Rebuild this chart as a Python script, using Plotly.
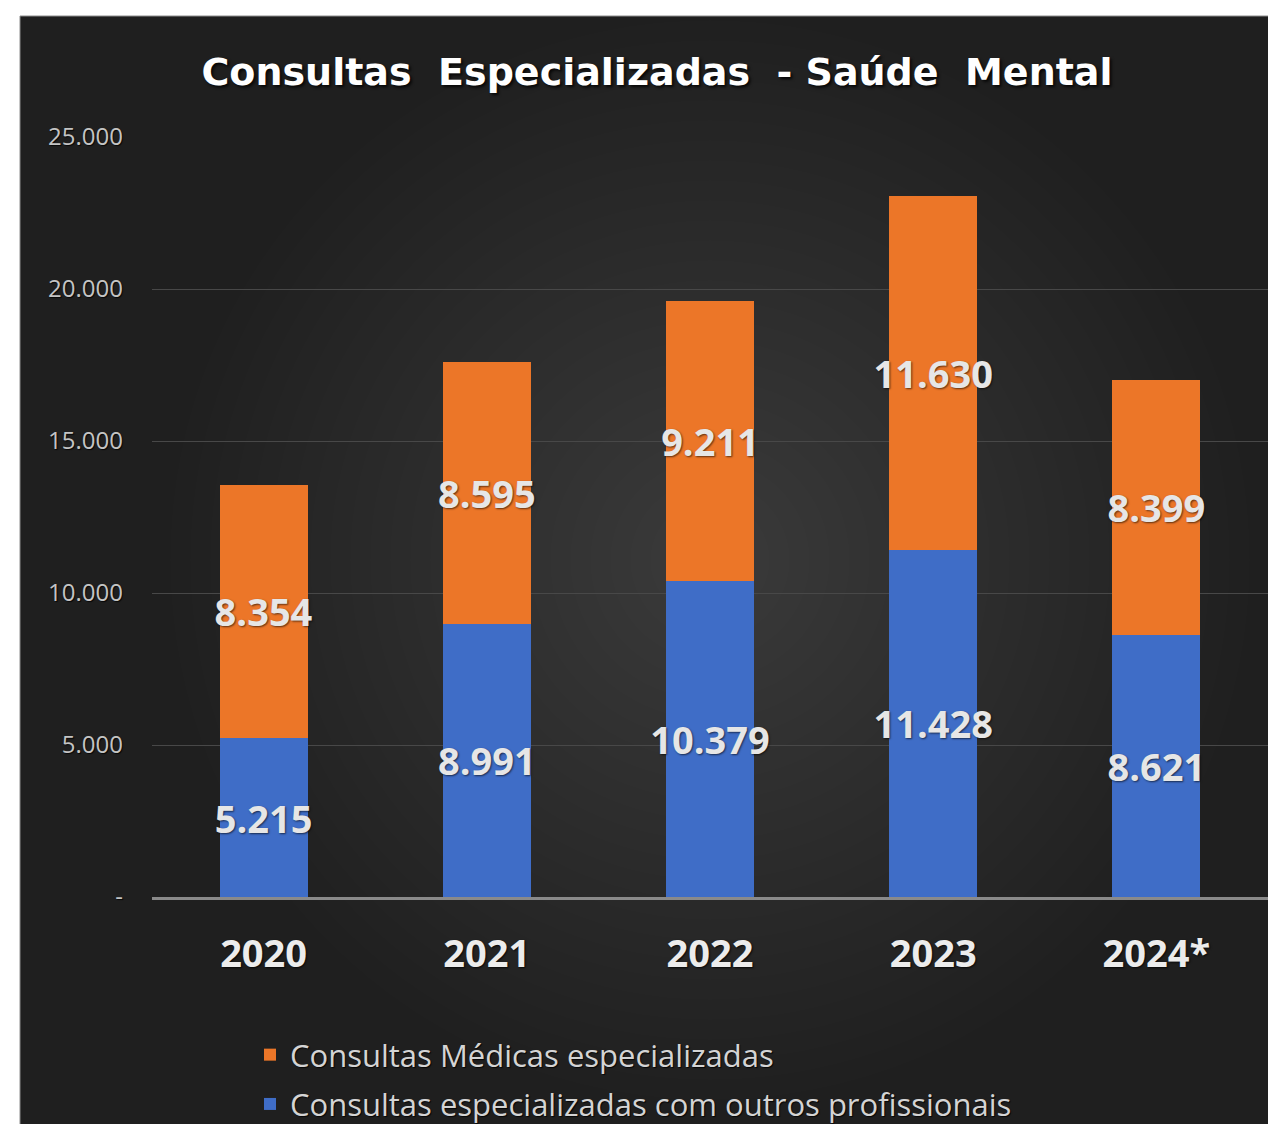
import plotly.graph_objects as go

# dados do gráfico
anos = ["2020", "2021", "2022", "2023", "2024*"]
outros_profissionais = [5215, 8991, 10379, 11428, 8621]
medicas = [8354, 8595, 9211, 11630, 8399]
y_ticks = [0, 5000, 10000, 15000, 20000, 25000]
y_tick_labels = ["-", "5.000", "10.000", "15.000", "20.000", "25.000"]


def fmt(v):
    return f"{v:,}".replace(",", ".")


# a página tem 8px de margem; figura medida em coordenadas da página
OFF = 8
W, H = 1276 - OFF, 1124 - OFF
ML, MR, MT, MB = 152 - OFF, 8, 137 - OFF, 227
PW, PH = W - ML - MR, H - MT - MB


def px_x(x):
    return (x - OFF - ML) / PW


def px_y(y):
    return (H - MB - (y - OFF)) / PH


label_font = dict(family="Open Sans", size=38, color="#e6e6e6", weight=700,
                  shadow="1px 1px 2px rgba(0,0,0,0.6)")

fig = go.Figure()

fig.add_trace(go.Bar(
    x=anos, y=outros_profissionais,
    name="Consultas especializadas com outros profissionais",
    legendgroup="b", legendrank=2,
    marker=dict(color="#3f6dc7", line=dict(width=0)),
    text=[fmt(v) for v in outros_profissionais],
    textposition="inside", insidetextanchor="middle",
    constraintext="none", textangle=0,
    textfont=label_font,
))
fig.add_trace(go.Bar(
    x=anos, y=medicas,
    name="Consultas Médicas especializadas",
    legendgroup="a", legendrank=1,
    marker=dict(color="#ec7628", line=dict(width=0)),
    text=[fmt(v) for v in medicas],
    textposition="inside", insidetextanchor="middle",
    constraintext="none", textangle=0,
    textfont=label_font,
))

# fundo escuro com leve gradiente radial
shapes = [dict(type="rect", xref="paper", yref="paper", layer="below",
               x0=px_x(20), x1=px_x(1300), y0=px_y(1150), y1=px_y(16),
               fillcolor="#1f1f1f", line=dict(color="#8c8c8c", width=1))]
cx, cy = px_x(710), px_y(560)
for r in range(540, 40, -20):
    shapes.append(dict(type="circle", xref="paper", yref="paper", layer="below",
                       xsizemode="pixel", ysizemode="pixel",
                       xanchor=cx, yanchor=cy, x0=-r, x1=r, y0=-r, y1=r,
                       fillcolor="rgba(255,255,255,0.009)", line=dict(width=0)))

fig.update_layout(
    width=W, height=H,
    margin=dict(l=ML, r=MR, t=MT, b=MB, autoexpand=False),
    paper_bgcolor="white",
    plot_bgcolor="rgba(0,0,0,0)",
    barmode="stack",
    bargap=0.605,
    shapes=shapes,
    title=dict(
        text="Consultas  Especializadas  - Saúde  Mental",
        x=(657 - OFF) / W, xanchor="center", y=1 - (72 - OFF) / H, yanchor="middle",
        font=dict(family="DejaVu Sans", size=38, color="#ffffff", weight=700,
                  shadow="2px 2px 3px rgba(0,0,0,0.8)"),
    ),
    xaxis=dict(
        showgrid=False, showline=True, linecolor="#8a8a8a", linewidth=3,
        ticks="", ticklabelstandoff=21,
        tickfont=dict(family="Open Sans", size=38, color="#ececec", weight=700,
                      shadow="1px 1px 2px rgba(0,0,0,0.8)"),
    ),
    yaxis=dict(
        range=[0, 25000], tickvals=y_ticks, ticktext=y_tick_labels,
        showgrid=True, gridcolor="#484848", gridwidth=1,
        zeroline=False, showline=False, ticks="", ticklabelstandoff=28,
        tickfont=dict(family="Open Sans", size=24, color="#c4c4c4",
                      shadow="1px 1px 1px rgba(0,0,0,0.8)"),
    ),
    legend=dict(
        x=px_x(250), xanchor="left", y=px_y(1028), yanchor="top",
        bgcolor="rgba(0,0,0,0)",
        font=dict(family="Open Sans", size=31, color="#d4d4d4",
                  shadow="1px 1px 1px rgba(0,0,0,0.8)"),
        traceorder="grouped", tracegroupgap=6,
    ),
    showlegend=True,
)

fig.write_html("out.html")
